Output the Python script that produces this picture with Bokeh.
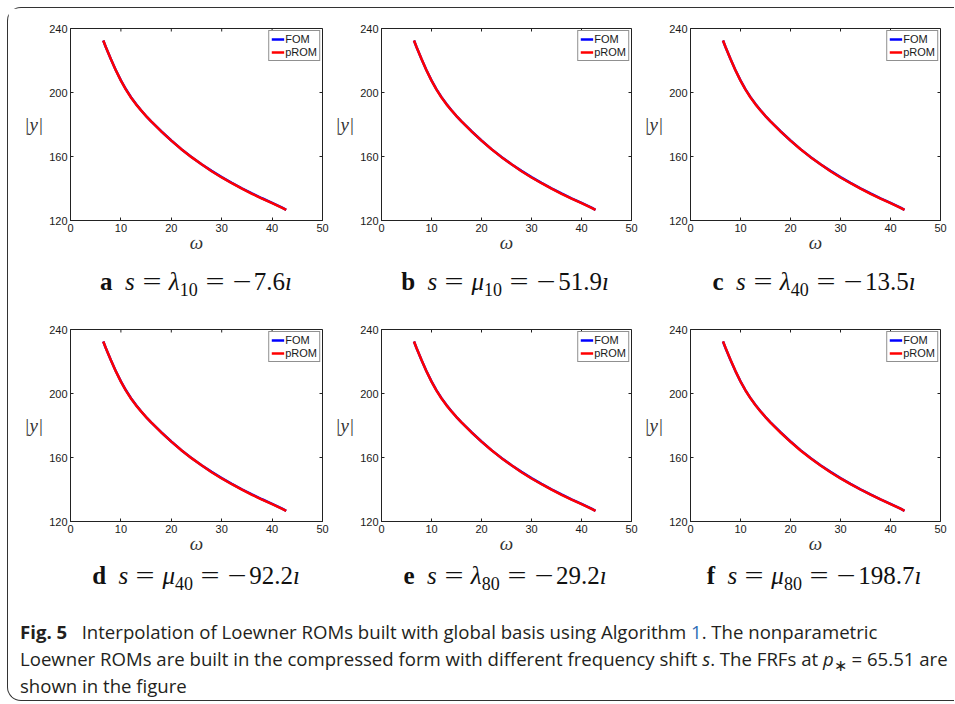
import math
from bokeh.plotting import figure
from bokeh.models import FixedTicker, Range1d, Div, Legend, LegendItem
from bokeh.layouts import column, row
from bokeh.embed import file_html
from bokeh.resources import INLINE

# ---------------- data ----------------
omega = [6.5, 7, 8, 9, 10, 11, 12, 13, 14, 15, 16, 18, 20, 22, 24, 26, 28,
         30, 32, 34, 36, 38, 40, 42, 42.8]
fom_y = [232.5, 228.4, 220.9, 213.9, 207.6, 202.0, 197.1, 192.8, 188.9, 185.3,
         182.0, 175.8, 170.0, 164.6, 159.7, 155.2, 151.0, 147.1, 143.5, 140.1,
         136.9, 133.9, 131.0, 128.0, 126.7]
prom_y = [232.5, 228.4, 220.9, 213.8, 207.4, 201.8, 196.9, 192.6, 188.8, 185.2,
          181.9, 175.7, 169.9, 164.5, 159.6, 155.1, 150.8, 146.9, 143.3, 139.9,
          136.7, 133.7, 130.8, 127.9, 126.6]
prom_y_f = [232.6, 228.6, 221.1, 214.0, 207.5, 201.9, 197.0, 192.7, 188.8, 185.2,
            181.8, 175.6, 169.8, 164.4, 159.5, 155.0, 150.8, 146.9, 143.4, 140.0,
            136.8, 133.8, 130.9, 128.0, 126.7]

x_ticks = [0, 10, 20, 30, 40, 50]
y_ticks = [120, 160, 200, 240]
series_names = ["FOM", "pROM"]
panel_letters = ["a", "b", "c", "d", "e", "f"]
shift_syms = ["λ", "μ", "λ", "μ", "λ", "μ"]
shift_idx = ["10", "10", "40", "40", "80", "80"]
shift_vals = ["7.6", "51.9", "13.5", "92.2", "29.2", "198.7"]

FRAME_W, FRAME_H = 252, 192
TOP, BOTTOM = 20, 38
TICK_FONT = "Liberation Sans"
SERIF = "Liberation Serif"
INK = "#1a1a1a"
AXC = "#222222"


def make_panel(left, right, y_prom):
    p = figure(width=left + FRAME_W + right, height=TOP + FRAME_H + BOTTOM,
               x_range=Range1d(x_ticks[0], x_ticks[-1]),
               y_range=Range1d(y_ticks[0], y_ticks[-1]),
               output_backend="svg", toolbar_location=None,
               min_border_left=left, min_border_right=right,
               min_border_top=TOP, min_border_bottom=BOTTOM)
    p.xgrid.visible = False
    p.ygrid.visible = False
    p.outline_line_color = AXC
    p.outline_line_width = 1

    for ax, ticks in ((p.xaxis[0], x_ticks), (p.yaxis[0], y_ticks)):
        ax.ticker = FixedTicker(ticks=ticks)
        ax.major_tick_in = 3
        ax.major_tick_out = 0
        ax.minor_tick_line_color = None
        ax.axis_line_color = AXC
        ax.major_tick_line_color = AXC
        ax.major_label_text_font = TICK_FONT
        ax.major_label_text_font_size = "11px"
        ax.major_label_text_color = INK
        ax.axis_label_text_font = SERIF
        ax.axis_label_text_font_style = "italic"
        ax.axis_label_text_font_size = "19px"
        ax.axis_label_text_color = "#333333"

    p.xaxis[0].axis_label = "ω"
    p.xaxis[0].major_label_standoff = 3
    p.xaxis[0].axis_label_standoff = -3
    p.yaxis[0].axis_label = "|y|"
    p.yaxis[0].axis_label_orientation = "horizontal"
    p.yaxis[0].major_label_standoff = 3
    p.yaxis[0].axis_label_standoff = 3

    # MATLAB-style inward ticks on the top and right sides of the box
    p.ray(x=x_ticks, y=[y_ticks[-1]] * len(x_ticks), length=3, length_units="screen",
          angle=-math.pi / 2, line_color=AXC, line_width=1)
    p.ray(x=[x_ticks[-1]] * len(y_ticks), y=y_ticks, length=3, length_units="screen",
          angle=math.pi, line_color=AXC, line_width=1)

    r1 = p.line(omega, fom_y, line_color="#0000ff", line_width=2.5)
    r2 = p.line(omega, y_prom, line_color="#ff0000", line_width=2.5)
    leg = Legend(items=[LegendItem(label=series_names[0], renderers=[r1]),
                        LegendItem(label=series_names[1], renderers=[r2])],
                 location="top_right", margin=2, padding=2, spacing=1,
                 glyph_width=13, glyph_height=12, label_height=12,
                 label_standoff=1, label_text_font=TICK_FONT,
                 label_text_font_size="11px", label_text_color=INK,
                 border_line_color=AXC, border_line_width=1,
                 background_fill_color="white", background_fill_alpha=1)
    p.add_layout(leg)
    return p


EQ = ('<span style="display:inline-block;transform:scaleX(1.35);'
      'margin:0 10px">=</span>')
MINUS = ('<span style="display:inline-block;transform:scaleX(1.35);'
         'margin:0 5px 0 3px">−</span>')


def make_label(i, left, right, height, pad_top):
    w = left + FRAME_W + right
    html = (f'<div style="box-sizing:border-box;width:{w}px;height:{height}px;'
            f'padding-left:{left}px;padding-right:{right}px;padding-top:{pad_top}px;'
            f'text-align:center;white-space:nowrap;font-family:\'{SERIF}\';'
            f'font-size:25px;line-height:26px;color:#111">'
            f'<b>{panel_letters[i]}</b>&nbsp;&nbsp;<i>s</i>{EQ}<i>{shift_syms[i]}</i>'
            f'<sub style="font-size:18px;line-height:0">{shift_idx[i]}</sub>'
            f'{EQ}{MINUS}{shift_vals[i]}<i>ı</i></div>')
    return Div(text=html, width=w, height=height, margin=0)


borders = [(62, 10), (47, 10), (47, 14)]
panels = []
for i in range(6):
    l, r = borders[i % 3]
    panels.append(make_panel(l, r, prom_y_f if i == 5 else prom_y))

labels1 = [make_label(i, *borders[i], 51, 11) for i in range(3)]
labels2 = [make_label(i + 3, *borders[i], 41, 4) for i in range(3)]

total_w = sum(l + FRAME_W + r for l, r in borders)
CAP_H = 100
caption_html = (
    f'<div style="box-sizing:border-box;width:{total_w}px;height:{CAP_H}px;'
    'padding-left:12px;padding-top:18px;white-space:nowrap;'
    "font-family:'Open Sans';font-size:18.6px;line-height:27px;color:#231f20\">"
    '<b>Fig. 5</b>&nbsp;&nbsp;&nbsp;Interpolation of Loewner ROMs built with global basis using Algorithm '
    '<span style="color:#2e6db4">1</span>. The nonparametric<br>'
    'Loewner ROMs are built in the compressed form with different frequency shift <i>s</i>. '
    'The FRFs at <i>p</i><sub style="line-height:0">∗</sub> = 65.51 are<br>'
    'shown in the figure</div>')
caption = Div(text=caption_html, width=total_w, height=CAP_H, margin=0)

layout = column(row(*panels[:3]), row(*labels1), row(*panels[3:]), row(*labels2), caption,
                margin=(7, 0, 0, 7),
                styles={"border-left": "1px solid #333", "border-top": "1px solid #333",
                        "border-bottom": "1px solid #333",
                        "border-top-left-radius": "14px", "border-bottom-left-radius": "14px"})

open("out.html", "w").write(file_html(layout, INLINE))
